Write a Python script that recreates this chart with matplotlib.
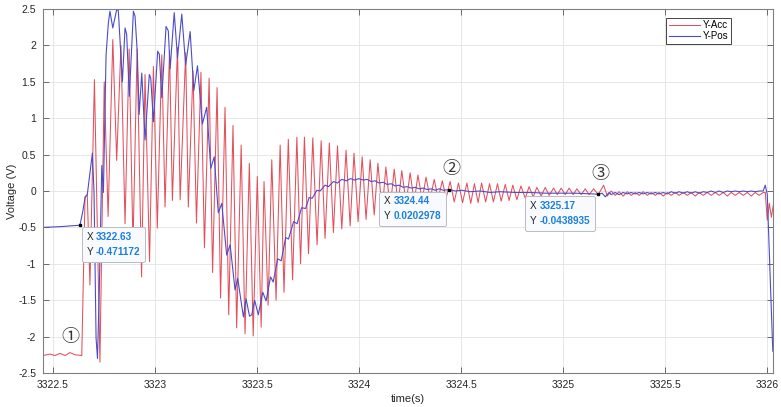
import matplotlib
matplotlib.use("Agg")
import matplotlib.pyplot as plt
from matplotlib.offsetbox import TextArea, HPacker, VPacker, AnnotationBbox

plt.rcParams['font.family'] = ['Liberation Sans', 'DejaVu Sans']

# ---- data (time in s, voltage in V) ----
acc_t = [3322.451, 3322.485, 3322.510, 3322.534, 3322.559, 3322.583, 3322.608, 3322.641,
         3322.657, 3322.668, 3322.681, 3322.703, 3322.730, 3322.751, 3322.770, 3322.793,
         3322.812, 3322.833, 3322.853, 3322.873, 3322.892, 3322.912, 3322.934, 3322.951,
         3322.973, 3322.992, 3323.011, 3323.033, 3323.049, 3323.071, 3323.085, 3323.110,
         3323.123, 3323.150, 3323.163, 3323.186, 3323.203, 3323.225, 3323.242, 3323.265,
         3323.282, 3323.304, 3323.321, 3323.343, 3323.361, 3323.382, 3323.400, 3323.422,
         3323.441, 3323.462, 3323.481, 3323.501, 3323.520, 3323.534, 3323.554, 3323.572,
         3323.593, 3323.613, 3323.632, 3323.653, 3323.674, 3323.695, 3323.713, 3323.732,
         3323.752, 3323.773, 3323.794, 3323.814, 3323.833, 3323.854, 3323.874, 3323.894,
         3323.915, 3323.936, 3323.956, 3323.975, 3323.995, 3324.015, 3324.034, 3324.054,
         3324.074, 3324.092, 3324.113, 3324.131, 3324.152, 3324.172, 3324.191, 3324.209,
         3324.230, 3324.250, 3324.270, 3324.288, 3324.309, 3324.328, 3324.348, 3324.368,
         3324.387, 3324.408, 3324.426, 3324.446, 3324.466, 3324.487, 3324.507, 3324.528,
         3324.547, 3324.565, 3324.583, 3324.600, 3324.620, 3324.639, 3324.658, 3324.678,
         3324.696, 3324.716, 3324.735, 3324.753, 3324.773, 3324.793, 3324.814, 3324.833,
         3324.853, 3324.871, 3324.892, 3324.912, 3324.931, 3324.953, 3324.971, 3324.990,
         3325.010, 3325.029, 3325.049, 3325.067, 3325.088, 3325.108, 3325.127, 3325.149,
         3325.172, 3325.198, 3325.216,
         3325.235, 3325.255, 3325.274, 3325.294, 3325.314, 3325.333, 3325.353, 3325.372,
         3325.392, 3325.412, 3325.431, 3325.451, 3325.470, 3325.490, 3325.510, 3325.529,
         3325.549, 3325.568, 3325.588, 3325.608, 3325.627, 3325.647, 3325.666, 3325.686,
         3325.706, 3325.725, 3325.745, 3325.764, 3325.784, 3325.804, 3325.823, 3325.843,
         3325.862, 3325.882, 3325.902, 3325.921, 3325.941, 3325.960, 3325.980,
         3325.990, 3326.000, 3326.010, 3326.020, 3326.029]
acc_v = [-2.26, -2.24, -2.26, -2.23, -2.26, -2.22, -2.25, -2.26,
         -0.08, -0.05, -1.29, 1.53, -2.35, 1.50, -0.35, 2.08,
         0.42, 2.00, -0.45, 1.95, -0.75, 1.95, -1.18, 1.60,
         -0.97, 1.71, -0.51, 1.87, -0.22, 1.93, -0.13, 1.97,
         -0.12, 1.90, -0.22, 1.65, -0.44, 1.63, -0.78, 1.55,
         -1.12, 1.42, -1.47, 1.15, -1.70, 0.90, -1.88, 0.63,
         -1.96, 0.38, -1.99, 0.20, -1.87, 0.13, -1.57, 0.43,
         -1.50, 0.63, -1.39, 0.71, -1.22, 0.74, -1.00, 0.74,
         -0.86, 0.73, -0.74, 0.69, -0.65, 0.66, -0.57, 0.62,
         -0.52, 0.56, -0.48, 0.52, -0.42, 0.47, -0.39, 0.43,
         -0.33, 0.38, -0.28, 0.33, -0.24, 0.30, -0.19, 0.28,
         -0.17, 0.25, -0.15, 0.22, -0.12, 0.19, -0.11, 0.16,
         -0.10, 0.14, -0.10, 0.13, -0.15, 0.11, -0.16, 0.11,
         -0.17, 0.10, -0.16, 0.11, -0.15, 0.10, -0.15, 0.10,
         -0.14, 0.09, -0.13, 0.08, -0.12, 0.07, -0.10, 0.06,
         -0.08, 0.05, -0.07, 0.05, -0.06, 0.04, -0.05, 0.04,
         -0.05, 0.04, -0.05, 0.03, -0.05, 0.03, -0.05, 0.03,
         -0.05, 0.08, -0.07,
         0.00, -0.06, -0.01, -0.07, -0.01, -0.06, -0.02, -0.06,
         -0.01, -0.06, -0.02, -0.06, -0.02, -0.07, -0.02, -0.06,
         -0.02, -0.06, -0.02, -0.06, -0.02, -0.07, -0.02, -0.06,
         -0.02, -0.06, -0.02, -0.06, -0.02, -0.07, -0.02, -0.06,
         -0.02, -0.06, -0.02, -0.07, -0.02, -0.06, -0.02,
         -0.02, -0.40, -0.17, -0.36, -0.20]

pos_t = [3322.451, 3322.534, 3322.583, 3322.632, 3322.646, 3322.657, 3322.668, 3322.678,
         3322.693, 3322.701, 3322.711, 3322.718, 3322.727, 3322.739, 3322.747, 3322.760,
         3322.771, 3322.779, 3322.793, 3322.812, 3322.820, 3322.840, 3322.853, 3322.861,
         3322.874, 3322.894, 3322.902, 3322.913, 3322.922, 3322.935, 3322.951, 3322.972,
         3322.979, 3322.992, 3323.013, 3323.021, 3323.033, 3323.054, 3323.065, 3323.074,
         3323.094, 3323.110, 3323.131, 3323.150, 3323.172, 3323.190, 3323.208, 3323.232,
         3323.253, 3323.273, 3323.290, 3323.310, 3323.327, 3323.351, 3323.368, 3323.392,
         3323.405, 3323.433, 3323.446, 3323.463, 3323.474, 3323.488, 3323.506, 3323.528,
         3323.544, 3323.566, 3323.579, 3323.601, 3323.618, 3323.640, 3323.654, 3323.679,
         3323.696, 3323.718, 3323.738, 3323.755, 3323.770, 3323.793, 3323.809, 3323.833,
         3323.850, 3323.874, 3323.894, 3323.915, 3323.938, 3323.958, 3323.978, 3323.998,
         3324.020, 3324.039, 3324.059, 3324.078, 3324.098, 3324.118, 3324.137, 3324.157,
         3324.176, 3324.196, 3324.216, 3324.235, 3324.255, 3324.275, 3324.294, 3324.314,
         3324.333, 3324.353, 3324.373, 3324.392, 3324.412, 3324.441, 3324.471, 3324.505,
         3324.544, 3324.593, 3324.642, 3324.691, 3324.765, 3324.838, 3324.912, 3324.985,
         3325.059, 3325.132, 3325.172, 3325.191, 3325.206, 3325.225,
         3325.235, 3325.255, 3325.274, 3325.294, 3325.314, 3325.333, 3325.353, 3325.372,
         3325.392, 3325.412, 3325.431, 3325.451, 3325.470, 3325.490, 3325.510, 3325.529,
         3325.549, 3325.568, 3325.588, 3325.608, 3325.627, 3325.647, 3325.666, 3325.686,
         3325.706, 3325.725, 3325.745, 3325.764, 3325.784, 3325.804, 3325.823, 3325.843,
         3325.862, 3325.882, 3325.902, 3325.921, 3325.941, 3325.960, 3325.980,
         3325.990, 3326.000, 3326.027]
pos_v = [-0.50, -0.49, -0.48, -0.47, -0.28, -0.09, -0.05, 0.18,
         0.52, -0.01, -2.02, -2.30, -1.34, 0.35, -0.02, 1.87,
         2.30, 2.47, 2.24, 2.49, 2.48, 1.50, 2.24, 2.15,
         1.30, 2.47, 2.40, 1.90, 1.05, 1.62, 0.70, 1.60,
         1.55, 0.95, 1.92, 1.88, 1.28, 2.26, 2.20, 1.68,
         2.45, 1.83, 2.43, 1.73, 2.19, 1.38, 1.72, 0.92,
         1.15, 0.31, 0.47, -0.30, -0.17, -0.88, -0.74, -1.36,
         -1.20, -1.73, -1.48, -1.72, -1.70, -1.50, -1.70, -1.39,
         -1.51, -1.18, -1.25, -0.93, -0.96, -0.64, -0.66, -0.42,
         -0.45, -0.23, -0.24, -0.09, -0.10, 0.01, 0.00, 0.08,
         0.06, 0.13, 0.11, 0.16, 0.14, 0.17, 0.15, 0.17,
         0.15, 0.16, 0.13, 0.14, 0.11, 0.12, 0.09, 0.10,
         0.07, 0.08, 0.05, 0.06, 0.04, 0.05, 0.03, 0.04,
         0.02, 0.03, 0.01, 0.03, 0.01, 0.02, 0.00, 0.01,
         -0.01, 0.00, -0.02, -0.01, -0.02, -0.02, -0.03, -0.03,
         -0.03, -0.04, -0.044, -0.03, -0.08, -0.02,
         -0.05, -0.02, -0.05, -0.02, -0.04, -0.02, -0.04, -0.02,
         -0.04, -0.02, -0.04, -0.02, -0.04, -0.02, -0.04, -0.01,
         -0.03, -0.01, -0.03, -0.01, -0.03, -0.01, -0.03, -0.01,
         -0.02, 0.00, -0.02, 0.00, -0.02, 0.00, -0.01, 0.00,
         -0.01, 0.00, -0.01, 0.00, -0.01, 0.00, 0.00,
         0.08, -0.05, -2.20]

# data tips and the circled markers
tip_x = [3322.63, 3324.44, 3325.17]
tip_y = [-0.471172, 0.0202978, -0.0438935]
tip_xs = ["3322.63", "3324.44", "3325.17"]
tip_ys = ["-0.471172", "0.0202978", "-0.0438935"]
marks = ["\u2460", "\u2461", "\u2462"]

x_ticks = [3322.5, 3323, 3323.5, 3324, 3324.5, 3325, 3325.5, 3326]
x_labels = ["3322.5", "3323", "3323.5", "3324", "3324.5", "3325", "3325.5", "3326"]
y_ticks = [-2.5, -2, -1.5, -1, -0.5, 0, 0.5, 1, 1.5, 2, 2.5]
y_labels = ["-2.5", "-2", "-1.5", "-1", "-0.5", "0", "0.5", "1", "1.5", "2", "2.5"]

red = "#e2505c"
blue = "#4c4cca"
tip_blue = "#1a7fe0"

fig = plt.figure(figsize=(7.81, 4.07), dpi=100)
ax = fig.add_axes([43 / 781, 1 - 373 / 407, 730 / 781, 364 / 407])

ax.plot(acc_t, acc_v, color=red, lw=0.75, label="Y-Acc")
ax.plot(pos_t, pos_v, color=blue, lw=0.8, label="Y-Pos")

ax.set_xlim(3322.451, 3326.028)
ax.set_ylim(-2.5, 2.5)
ax.set_xticks(x_ticks, x_labels)
ax.set_yticks(y_ticks, y_labels)
ax.tick_params(direction="in", top=True, right=True, length=4, width=0.6,
               color="#555555", labelcolor="#262626", labelsize=7.5, pad=5)
ax.grid(True, color="#e3e3e3", lw=0.6)
ax.set_axisbelow(True)
for s in ax.spines.values():
    s.set_color("#808080")
    s.set_linewidth(0.8)

ax.set_xlabel("time(s)", fontsize=8, color="#262626", labelpad=3)
ax.set_ylabel("Voltage (V)", fontsize=8, color="#262626", labelpad=1)

leg = ax.legend(loc="upper right", bbox_to_anchor=(0.942, 0.976), fontsize=7,
                handlelength=3.2, handletextpad=0.3, labelspacing=0.1,
                borderpad=0.25, borderaxespad=0, fancybox=False, framealpha=1)
leg.get_frame().set_edgecolor("#262626")
leg.get_frame().set_linewidth(0.6)

# data tips (black dot + two-coloured text box)
ax.plot(tip_x, tip_y, "s", color="k", ms=1.8, zorder=5)
tip_align = [(0, 1), (1, 1), (1, 1)]
tip_offset = [(5.0, -5.0), (-5.5, -5.0), (-5.5, -5.0)]
for i in range(3):
    rows = []
    for lab, val in (("X", tip_xs[i]), ("Y", tip_ys[i])):
        rows.append(HPacker(children=[
            TextArea(lab, textprops=dict(color="#222222", fontsize=7.2)),
            TextArea(val, textprops=dict(color=tip_blue, fontsize=7.2, fontweight="bold"))],
            sep=2, pad=0, align="baseline"))
    box = VPacker(children=rows, sep=3.5, pad=0, align="left")
    ab = AnnotationBbox(box, (tip_x[i], tip_y[i]), xybox=tip_offset[i],
                        xycoords="data", boxcoords="offset points",
                        box_alignment=tip_align[i], pad=0.35, frameon=True,
                        bboxprops=dict(facecolor="#f8fafd", edgecolor="#b8bcc4", lw=0.7,
                                       boxstyle="round,pad=0.35,rounding_size=0.15"),
                        zorder=6)
    ax.add_artist(ab)

# circled step numbers
circ_font = ["Noto Sans CJK SC", "DejaVu Sans"]
ax.annotate(marks[0], (3322.585, -2.0), ha="center", va="center", fontsize=13,
            family=circ_font, color="#333333")
for i in (1, 2):
    ax.annotate(marks[i], (tip_x[i], tip_y[i]), xytext=(2, 14.5), textcoords="offset points",
                ha="center", va="center", fontsize=13, family=circ_font, color="#333333")

fig.savefig("out.png", dpi=100)
